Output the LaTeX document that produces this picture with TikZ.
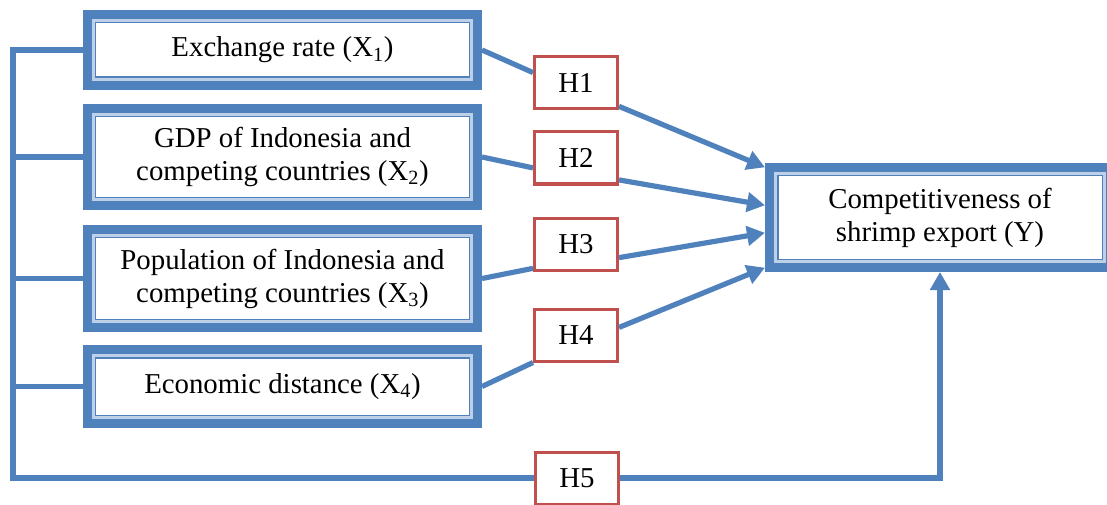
\documentclass[tikz,border=0pt]{standalone}
\usepackage{fontspec}
\setmainfont{Liberation Serif}
\usetikzlibrary{arrows.meta}

\definecolor{boxblue}{RGB}{79,129,189}
\definecolor{bandlight}{RGB}{190,208,232}
\definecolor{hypred}{RGB}{192,80,77}

\begin{document}
\begin{tikzpicture}
    [x=0.25mm, y=0.25mm,
    every node/.style={font=\fontsize{20.5}{23.5}\selectfont},
    xbox/.style={rectangle, minimum width=99.75mm, inner sep=0pt, outer sep=0pt, align=center},
    hbox/.style={rectangle, draw=hypred, line width=0.75mm, fill=white, minimum width=20.75mm, minimum height=13mm, inner sep=0pt},
    outerline/.style={draw=boxblue, line width=1.875mm},
    innerline/.style={draw=boxblue, line width=0.375mm, double=bandlight, double distance=0.75mm},
    link/.style={draw=boxblue, line width=1.3mm},
    arrow/.style={link, -{Triangle[length=4.5mm, width=4.8mm]}}]

    \useasboundingbox (0,0) rectangle (1107,504);

    % variables
    \node[xbox, minimum height=20mm] (x1) at (282.5,454) {Exchange rate (X\textsubscript{1})};
    \node[xbox, minimum height=26.5mm] (x2) at (282.5,347) {GDP of Indonesia and\\competing countries (X\textsubscript{2})};
    \node[xbox, minimum height=26.75mm] (x3) at (282.5,225.5) {Population of Indonesia and\\competing countries (X\textsubscript{3})};
    \node[xbox, minimum height=20.75mm] (x4) at (282.5,117.5) {Economic distance (X\textsubscript{4})};
    \node[xbox, minimum width=87.5mm, minimum height=27.25mm] (y) at (940,286.5) {Competitiveness of\\shrimp export (Y)};

    % double frames
    \foreach \n in {x1,x2,x3,x4,y} {
        \draw[outerline] ([shift={(3.75,-3.75)}]\n.north west) rectangle ([shift={(-3.75,3.75)}]\n.south east);
        \draw[innerline] ([shift={(10.5,-10.5)}]\n.north west) rectangle ([shift={(-10.5,10.5)}]\n.south east);
    }

    % hypotheses
    \node[hbox] (h1) at (576,421.5) {H1};
    \node[hbox] (h2) at (576,346) {H2};
    \node[hbox] (h3) at (576,259.5) {H3};
    \node[hbox] (h4) at (576,169) {H4};
    \node[hbox] (h5) at (577,26) {H5};

    \coordinate (bus) at (13,26);

    % left bus
    \draw[link] (x1.west) -| (bus) -- (h5.west);
    \foreach \n in {x2,x3,x4}
        \draw[link] (\n.west) -- (\n.west -| bus);
    \draw[arrow] (h5.east) -| (y.south);

    % paths through the hypotheses
    \draw[link] (x1.east) -- (h1.167);
    \draw[arrow] (h1.-29) -- (y.164);
    \draw[link] (x2.east) -- (h2.193);
    \draw[arrow] (h2.-27) -- (y.176);
    \draw[link] (x3.east) -- (h3.209);
    \draw[arrow] (h3.-17) -- (y.185);
    \draw[link] (x4.east) -- (h4.south west);
    \draw[arrow] (h4.10) -- (y.196);

\end{tikzpicture}
\end{document}
